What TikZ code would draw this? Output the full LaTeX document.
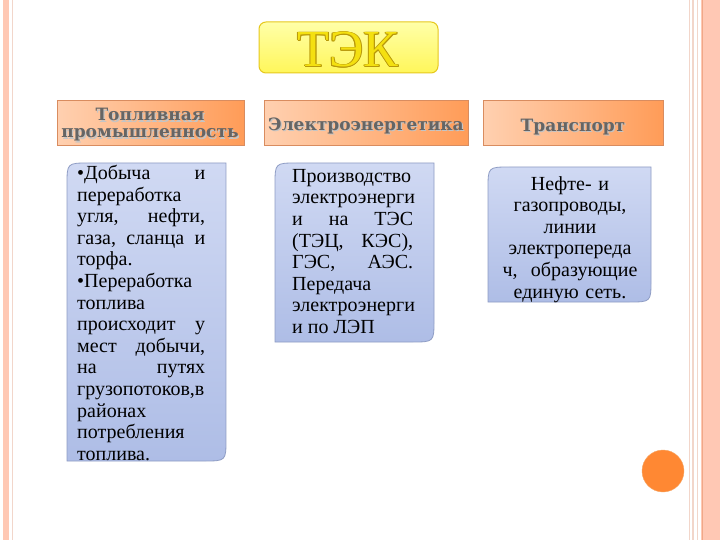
\documentclass[tikz,border=0pt]{standalone}
\usepackage{fontspec}
\setmainfont{Liberation Serif}
\newfontfamily\headfont{DejaVu Serif}
\usepackage{xcolor}

\definecolor{stripe}{HTML}{FFC8B4}
\definecolor{stripethin}{HTML}{F2D6CA}
\definecolor{stripedark}{HTML}{F0A888}
\definecolor{titlebox}{HTML}{FFF65A}
\definecolor{titleboxtop}{HTML}{FFFFA8}
\definecolor{titleline}{HTML}{E6C81E}
\definecolor{titlefill}{HTML}{F4E010}
\definecolor{titleedge}{HTML}{B8980A}
\definecolor{headleft}{HTML}{FFD0B0}
\definecolor{headright}{HTML}{FF9C58}
\definecolor{headline}{HTML}{D98C5F}
\definecolor{headgrey}{HTML}{656565}
\definecolor{headshade}{HTML}{C4C4C4}
\definecolor{infotop}{HTML}{D0D9F3}
\definecolor{infobottom}{HTML}{AEBDE6}
\definecolor{infoline}{HTML}{8E9CC4}
\definecolor{dot}{HTML}{FF8833}
\definecolor{dotline}{HTML}{F5A868}

\begin{document}
\begin{tikzpicture}[x=1pt,y=-1pt,
    headbox/.style={draw=headline,line width=1pt,left color=headleft,right color=headright},
    infobox/.style={draw=infoline,line width=0.8pt,top color=infotop,bottom color=infobottom},
    headtext/.style={font=\headfont\bfseries\fontsize{17}{17}\selectfont,text=headgrey,align=center,inner sep=0pt},
    headshadow/.style={headtext,text=headshade},
    bodytext/.style={font=\fontsize{20}{21.6}\selectfont,inner sep=0pt,
        execute at begin node={\parindent=0pt\hyphenpenalty=10000\tolerance=10000}},
    titletext/.style={font=\fontsize{52}{52}\selectfont,inner sep=0pt}]
    % page and side stripes
    \useasboundingbox (0,0) rectangle (720,540);
    \fill[white] (0,0) rectangle (720,540);
    \fill[stripe] (3,0) rectangle (9,540);
    \draw[stripethin] (12,0) -- (12,540);
    \draw[stripethin] (689,0) -- (689,540);
    \draw[stripethin,line width=1.2pt] (693,0) -- (693,540);
    \draw[stripethin] (697,0) -- (697,540);
    \fill[stripe] (701,0) rectangle (720,540);
    \draw[stripedark] (702,0) -- (702,540);

    % title
    \draw[titleline,line width=1pt,rounded corners=7pt,top color=titleboxtop,bottom color=titlebox]
        (259,22) rectangle (438,73);
    \foreach \a in {0,45,...,315}
        \node[titletext,text=titleedge] (titleedge\a) at ([shift={(\a:0.8)}]348,50) {ТЭК};
    \node[titletext,text=titlefill] (title) at (348,50) {ТЭК};

    % headings
    \path[headbox] (57,101) rectangle (244,146);
    \path[headbox] (264,101) rectangle (468,146);
    \path[headbox] (483,101) rectangle (663,146);
    \node[headshadow] (fuelShade) at (151.2,126.2) {Топливная\\промышленность};
    \node[headtext] (fuelHead) at (150,125) {Топливная\\промышленность};
    \node[headshadow] (powerShade) at (367.2,127.2) {Электроэнергетика};
    \node[headtext] (powerHead) at (366,126) {Электроэнергетика};
    \node[headshadow] (transShade) at (574.2,128.2) {Транспорт};
    \node[headtext] (transHead) at (573,127) {Транспорт};

    % text boxes
    \path[infobox] (67,461) -- (67,185) .. controls (67,163) .. (89,163) -- (226,163)
        -- (226,439) .. controls (226,461) .. (204,461) -- cycle;
    \path[infobox] (275,342) -- (275,185) .. controls (275,163) .. (297,163) -- (434,163)
        -- (434,320) .. controls (434,342) .. (412,342) -- cycle;
    \path[infobox] (488,302) -- (488,189) .. controls (488,167) .. (510,167) -- (651,167)
        -- (651,280) .. controls (651,302) .. (629,302) -- cycle;

    \node[bodytext,text width=128pt,align=justify,anchor=north west] (fuelText) at (77,165)
        {•Добыча~и\linebreak переработка\linebreak угля,~нефти,\linebreak газа,~сланца~и\linebreak
         торфа.\par •Переработка\linebreak топлива\linebreak происходит~у\linebreak мест~добычи,\linebreak
         на~путях\linebreak грузопотоков,в\linebreak районах\linebreak потребления\linebreak топлива.\par};
    \node[bodytext,text width=121pt,align=justify,anchor=north west] (powerText) at (292,169)
        {Производство\linebreak электроэнерги\linebreak и~на~ТЭС\linebreak (ТЭЦ,~КЭС),\linebreak
         ГЭС,~АЭС.\linebreak Передача\linebreak электроэнерги\linebreak и~по~ЛЭП\par};
    \node[bodytext,text width=150pt,align=center,anchor=north] (transText) at (570,176)
        {Нефте- и\\газопроводы,\\линии\\электропереда\\ч,~ образующие\\единую сеть.};

    % corner dot
    \draw[dotline,fill=dot] (663,471) circle [radius=21];
\end{tikzpicture}
\end{document}
